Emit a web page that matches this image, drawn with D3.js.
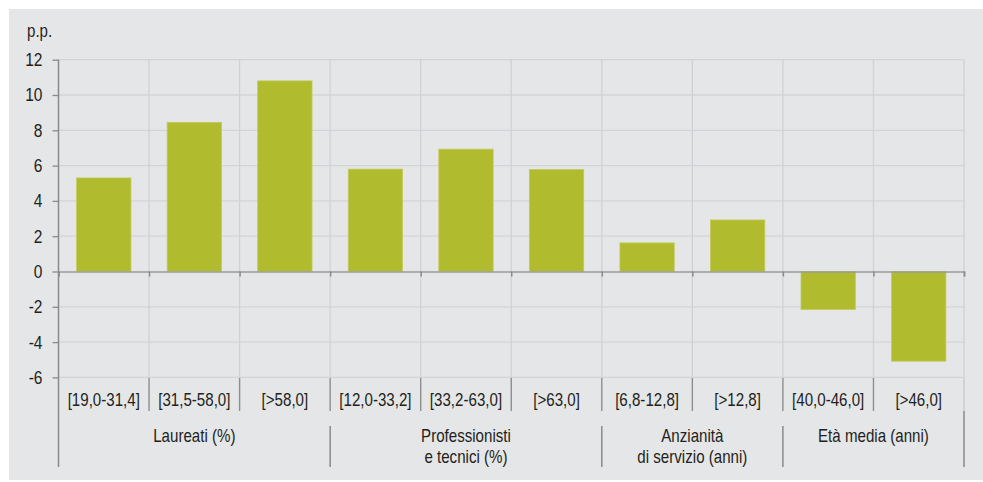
<!DOCTYPE html>
<html><head><meta charset="utf-8">
<script src="https://cdn.jsdelivr.net/npm/d3@7"></script>
<style>
body{margin:0;background:#fff;}
svg{display:block;}
text{font-family:"Liberation Sans",Arial,sans-serif;fill:#231f20;}
</style></head>
<body>
<script>
const categories = ["[19,0-31,4]","[31,5-58,0]","[>58,0]","[12,0-33,2]","[33,2-63,0]","[>63,0]","[6,8-12,8]","[>12,8]","[40,0-46,0]","[>46,0]"];
const values = [5.3, 8.45, 10.8, 5.8, 6.93, 5.78, 1.62, 2.92, -2.15, -5.08];
const groupLabels = [["Laureati (%)"],["Professionisti","e tecnici (%)"],["Anzianità","di servizio (anni)"],["Età media (anni)"]];
const groupSizes = [3,3,2,2];
const yTicks = [12,10,8,6,4,2,0,-2,-4,-6];
const unitLabel = "p.p.";

const W=983,H=482;
const SX=0.84; // horizontal condensation to mimic narrow face
const svg=d3.select("body").append("svg").attr("width",W).attr("height",H);
svg.append("rect").attr("x",9).attr("y",9).attr("width",W-9).attr("height",471).attr("fill","#e5e6e8");

const x=d3.scaleBand().domain(categories).range([58.5,964]).paddingInner(0).paddingOuter(0);
const y=d3.scaleLinear().domain([-6,12]).range([377.4,59.7]);
const bw=x.bandwidth();
const bounds=categories.map(c=>x(c)).concat([x.range()[1]]);

svg.append("g").selectAll("line").data(yTicks.filter(d=>d!==0)).join("line")
  .attr("x1",58.5).attr("x2",964).attr("y1",d=>y(d)).attr("y2",d=>y(d))
  .attr("stroke","#d3d4d7").attr("stroke-width",1.3);
svg.append("g").selectAll("line").data(bounds.slice(1)).join("line")
  .attr("x1",d=>d).attr("x2",d=>d).attr("y1",y(12)).attr("y2",y(-6))
  .attr("stroke","#d0d1d4").attr("stroke-width",1.3);

svg.append("g").selectAll("rect").data(values).join("rect")
  .attr("x",(d,i)=>x(categories[i])+bw*0.2)
  .attr("width",bw*0.6)
  .attr("y",d=>y(Math.max(0,d)))
  .attr("height",d=>Math.abs(y(d)-y(0)))
  .attr("fill","#b0bb2e").attr("stroke","#c3ca5a").attr("stroke-width",0.8);

const xAxis=d3.axisBottom(d3.scaleLinear().domain([0,1]).range([58.5,964]))
  .tickValues(bounds.map(b=>(b-58.5)/(964-58.5))).tickSize(5).tickFormat("");
const gx=svg.append("g").attr("transform",`translate(0,${y(0)})`).call(xAxis);
gx.select(".domain").attr("stroke","#9a9a9a").attr("stroke-width",1.6);
gx.selectAll(".tick line").attr("stroke","#8a8a8a").attr("stroke-width",1.5);

const yAxis=d3.axisLeft(y).tickValues(yTicks).tickSize(6).tickPadding(10).tickFormat(d=>d);
const gy=svg.append("g").attr("transform","translate(58.5,0)").call(yAxis);
gy.select(".domain").remove();
gy.selectAll(".tick line").attr("stroke","#8a8a8a").attr("stroke-width",1.3);
gy.selectAll(".tick text").style("font-size","18.5px").attr("fill","#231f20")
  .style("font-family","'Liberation Sans',Arial,sans-serif")
  .attr("x",-16/SX).attr("transform",`scale(${SX},1)`);
svg.append("line").attr("x1",58.5).attr("x2",58.5).attr("y1",y(12)).attr("y2",467)
  .attr("stroke","#8a8a8a").attr("stroke-width",1.5);

svg.append("text").attr("transform",`translate(27,37) scale(${SX},1)`).style("font-size","18px").text(unitLabel);

svg.append("g").selectAll("line").data(bounds.slice(1)).join("line")
  .attr("x1",d=>d).attr("x2",d=>d).attr("y1",378).attr("y2",411)
  .attr("stroke",(d,i)=>i===bounds.length-2?"#c8c9cc":"#8e8e8e").attr("stroke-width",1.4);
svg.append("g").selectAll("text").data(categories).join("text")
  .attr("transform",d=>`translate(${x(d)+bw/2},406) scale(${SX},1)`).attr("text-anchor","middle")
  .style("font-size","18px").text(d=>d);

let acc=0;
const groups=groupLabels.map((lab,i)=>{const s=acc;acc+=groupSizes[i];return {lab,start:bounds[s],end:bounds[acc]};});
svg.append("g").selectAll("line").data(groups).join("line")
  .attr("x1",d=>d.end).attr("x2",d=>d.end).attr("y1",d=>d.end>=963?411:426).attr("y2",467)
  .attr("stroke","#8a8a8a").attr("stroke-width",1.5);
const gt=svg.append("g").selectAll("text").data(groups).join("text")
  .attr("transform",d=>`translate(${(d.start+d.end)/2},442) scale(${SX},1)`)
  .attr("text-anchor","middle").style("font-size","18px");
gt.selectAll("tspan").data(d=>d.lab).join("tspan")
  .attr("x",0).attr("dy",(d,i)=>i===0?0:21).text(d=>d);
</script>
</body></html>
